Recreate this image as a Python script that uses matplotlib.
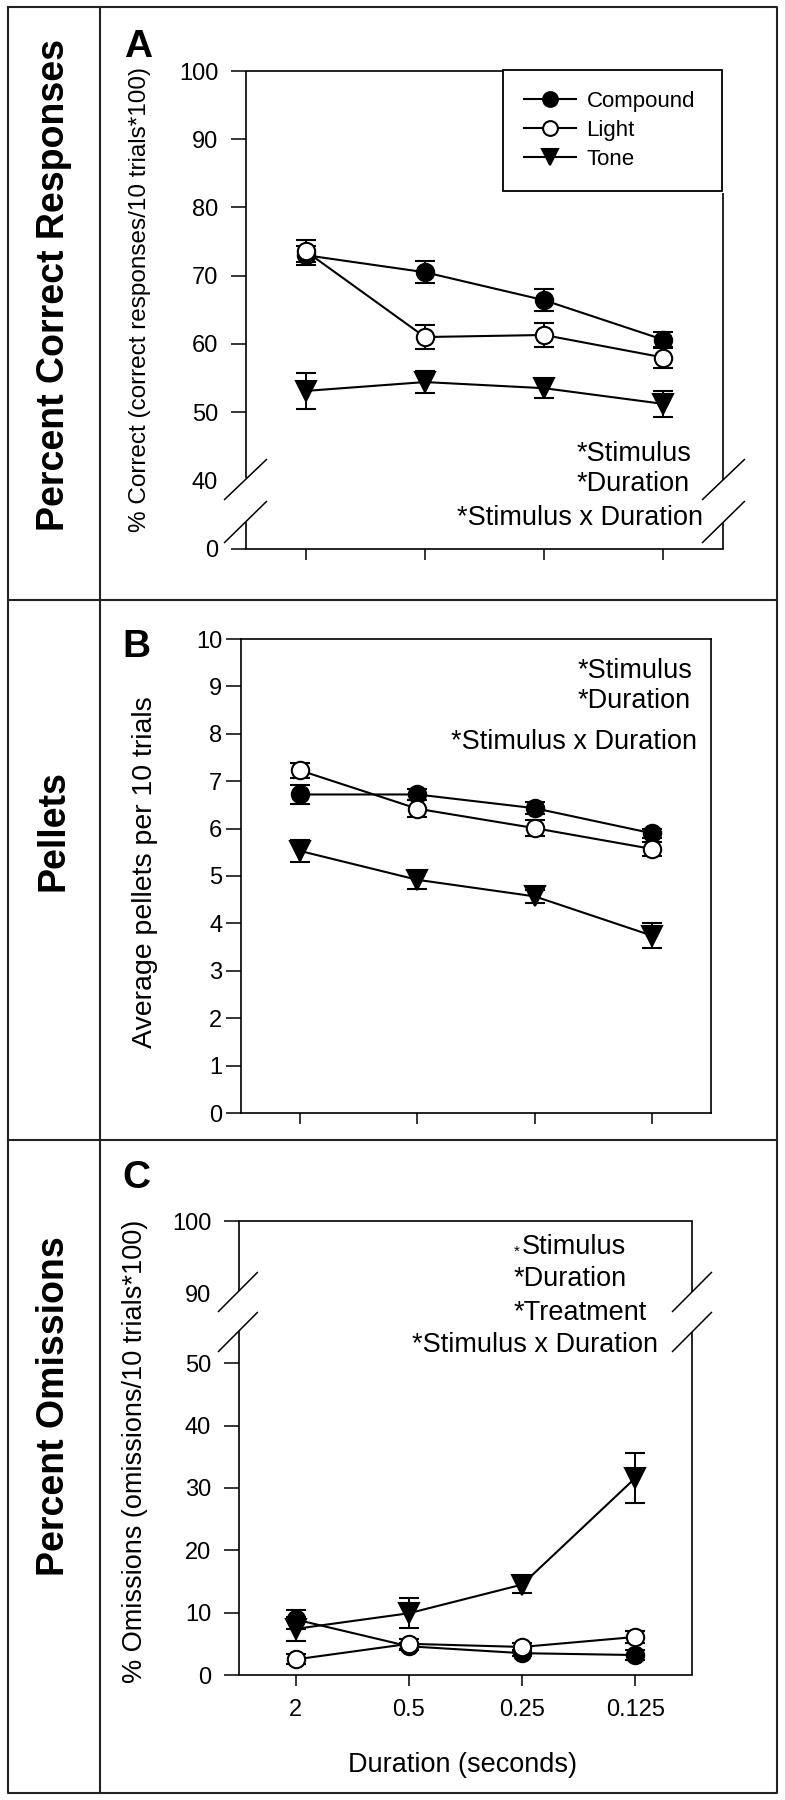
import numpy as np
import matplotlib
matplotlib.use("Agg")
import matplotlib.pyplot as plt
from matplotlib.lines import Line2D

plt.rcParams['font.family'] = ['Liberation Sans', 'DejaVu Sans']

# ---- data ----
durations = ['2', '0.5', '0.25', '0.125']
stimuli = ['Compound', 'Light', 'Tone']

correct_compound = [73.0, 70.5, 66.4, 60.6]
correct_compound_err = [1.4, 1.6, 1.6, 1.2]
correct_light = [73.6, 61.0, 61.3, 58.0]
correct_light_err = [1.6, 1.7, 1.8, 1.6]
correct_tone = [53.1, 54.4, 53.5, 51.2]
correct_tone_err = [2.7, 1.6, 1.4, 1.9]

pellets_compound = [6.72, 6.72, 6.43, 5.90]
pellets_compound_err = [0.21, 0.12, 0.13, 0.10]
pellets_light = [7.23, 6.42, 6.01, 5.57]
pellets_light_err = [0.16, 0.18, 0.17, 0.15]
pellets_tone = [5.53, 4.92, 4.57, 3.74]
pellets_tone_err = [0.23, 0.19, 0.14, 0.26]

omit_compound = [8.9, 4.6, 3.5, 3.2]
omit_compound_err = [1.5, 0.6, 0.5, 0.8]
omit_light = [2.5, 5.0, 4.5, 6.1]
omit_light_err = [0.8, 0.8, 0.7, 0.9]
omit_tone = [7.4, 9.9, 14.5, 31.6]
omit_tone_err = [1.9, 2.4, 1.4, 4.0]

W, H = 785, 1800
fig = plt.figure(figsize=(W / 100, H / 100), dpi=100)


def fx(x):
    return x / W


def fy(y):
    return 1 - y / H


def axes_px(left, top, right, bottom):
    return fig.add_axes([fx(left), fy(bottom), (right - left) / W, (bottom - top) / H])


# outer frame and dividers
frame_kw = dict(transform=fig.transFigure, color='#222222', lw=1.5)
fig.add_artist(Line2D([fx(8), fx(777), fx(777), fx(8), fx(8)],
                      [fy(7), fy(7), fy(1793), fy(1793), fy(7)], **frame_kw))
fig.add_artist(Line2D([fx(100), fx(100)], [fy(7), fy(1793)], **frame_kw))
for yy in (600, 1140):
    fig.add_artist(Line2D([fx(8), fx(777)], [fy(yy), fy(yy)], **frame_kw))

styles = {
    'Compound': dict(marker='o', ms=12.5, mfc='black'),
    'Light': dict(marker='o', ms=12.5, mfc='white'),
    'Tone': dict(marker='v', ms=14, mfc='black'),
}
x = np.arange(len(durations))


def draw(ax, series):
    handles = []
    for name, mean, err in series:
        c = ax.errorbar(x, mean, yerr=err, color='black', lw=1.5, mec='black', mew=1.5,
                        capsize=7.5, capthick=1.5, elinewidth=1.4, zorder=3,
                        **styles[name])
        handles.append(c[0])
    return handles


def style_axes(ax, xlabels=False):
    ax.set_xlim(-0.5, 3.5)
    ax.set_xticks(x)
    if xlabels:
        ax.set_xticklabels(durations)
    else:
        ax.tick_params(axis='x', labelbottom=False)
    ax.tick_params(axis='x', length=8, width=1.1, pad=9, labelsize=17)
    ax.tick_params(axis='y', length=10.5, width=1.1, pad=9.5, labelsize=17)
    for s in ax.spines.values():
        s.set_linewidth(1.2)


def seg(ax, xs, ys, lw=1.2):
    ax.plot(xs, ys, transform=ax.transAxes, color='black', lw=lw,
            clip_on=False, solid_capstyle='butt', zorder=4)


# ---------------- panel A ----------------
def fwd_a(y):
    y = np.asarray(y, float)
    return np.where(y < 40, 30 + y * 0.25, y)


def inv_a(v):
    v = np.asarray(v, float)
    return np.where(v < 40, (v - 30) * 4, v)


axA = axes_px(246, 71, 723, 548.5)
axA.set_yscale('function', functions=(fwd_a, inv_a))
hA = draw(axA, [('Compound', correct_compound, correct_compound_err),
                ('Light', correct_light, correct_light_err),
                ('Tone', correct_tone, correct_tone_err)])
axA.set_ylim(0, 100)
axA.set_yticks([0, 40, 50, 60, 70, 80, 90, 100])
axA.set_yticklabels(['0', '40', '50', '60', '70', '80', '90', '100'])
style_axes(axA)
axA.yaxis.get_major_ticks()[1].tick1line.set_visible(False)
for s in ('top', 'left', 'right'):
    axA.spines[s].set_visible(False)
seg(axA, [0, 0], [0, 0.0565])
seg(axA, [0, 0], [0.1466, 1])
seg(axA, [1, 1], [0, 0.0555])
seg(axA, [1, 1], [0.1445, 0.7445])
seg(axA, [0, 0.539], [1, 1])
for x0 in (-0.046, 0.956):
    seg(axA, [x0, x0 + 0.09], [0.1016, 0.1874], lw=1.1)
    seg(axA, [x0, x0 + 0.09], [0.0115, 0.0995], lw=1.1)
leg = axA.legend(hA, stimuli, loc='upper left', bbox_to_anchor=(0.539, 1.003, 0.458, 0),
                 mode='expand', frameon=True, fancybox=False, edgecolor='black',
                 framealpha=1, borderpad=0.95, labelspacing=0.36, handlelength=2.35,
                 handletextpad=0.45, borderaxespad=0, fontsize=16, markerscale=0.85)
leg.get_frame().set_linewidth(1.3)
leg.set_zorder(6)

# ---------------- panel B ----------------
axB = axes_px(241, 639, 711, 1113)
draw(axB, [('Compound', pellets_compound, pellets_compound_err),
           ('Light', pellets_light, pellets_light_err),
           ('Tone', pellets_tone, pellets_tone_err)])
axB.set_ylim(0, 10)
axB.set_yticks(range(0, 11))
style_axes(axB)
axB.tick_params(axis='y', pad=3)


# ---------------- panel C ----------------
def fwd_c(y):
    y = np.asarray(y, float)
    return np.where(y <= 50, y,
                    np.where(y < 90, 50 + (y - 50) * 11.1 / 40, 61.1 + (y - 90) * 1.17))


def inv_c(v):
    v = np.asarray(v, float)
    return np.where(v <= 50, v,
                    np.where(v < 61.1, 50 + (v - 50) * 40 / 11.1, 90 + (v - 61.1) / 1.17))


axC = axes_px(239, 1221, 692, 1675)
axC.set_yscale('function', functions=(fwd_c, inv_c))
draw(axC, [('Compound', omit_compound, omit_compound_err),
           ('Light', omit_light, omit_light_err),
           ('Tone', omit_tone, omit_tone_err)])
axC.set_ylim(0, 100)
axC.set_yticks([0, 10, 20, 30, 40, 50, 90, 100])
axC.set_yticklabels(['0', '10', '20', '30', '40', '50', '90', '100'])
style_axes(axC, xlabels=True)
axC.yaxis.get_major_ticks()[6].tick1line.set_visible(False)
for s in ('left', 'right'):
    axC.spines[s].set_visible(False)
seg(axC, [0, 0], [0, 0.758])
seg(axC, [0, 0], [0.846, 1])
seg(axC, [1, 1], [0, 0.7545])
seg(axC, [1, 1], [0.8427, 1])
for x0 in (-0.0464, 0.956):
    seg(axC, [x0, x0 + 0.088], [0.7996, 0.8877], lw=1.1)
    seg(axC, [x0, x0 + 0.088], [0.7115, 0.7996], lw=1.1)

# ---------------- texts ----------------
title_kw = dict(rotation=90, ha='center', va='center', fontsize=27, fontweight='bold')
fig.text(fx(54), fy(285), 'Percent Correct Responses', **title_kw)
fig.text(fx(54), fy(831), 'Pellets', **title_kw)
fig.text(fx(54), fy(1406), 'Percent Omissions', **title_kw)

letter_kw = dict(ha='left', va='baseline', fontsize=28, fontweight='bold')
fig.text(fx(124), fy(57), 'A', **letter_kw)
fig.text(fx(122), fy(657), 'B', **letter_kw)
fig.text(fx(122), fy(1188), 'C', **letter_kw)

ylab_kw = dict(rotation=90, ha='center', va='center')
fig.text(fx(140), fy(300), '% Correct (correct responses/10 trials*100)', fontsize=17.5, **ylab_kw)
fig.text(fx(145), fy(872), 'Average pellets per 10 trials', fontsize=20.5, **ylab_kw)
fig.text(fx(135), fy(1451), '% Omissions (omissions/10 trials*100)', fontsize=19.5, **ylab_kw)

fig.text(fx(463), fy(1772), 'Duration (seconds)', ha='center', va='baseline', fontsize=19.5)

note_kw = dict(va='baseline', fontsize=19.5)
fig.text(fx(577), fy(461), '*Stimulus', ha='left', **note_kw)
fig.text(fx(577), fy(491), '*Duration', ha='left', **note_kw)
fig.text(fx(703), fy(525), '*Stimulus x Duration', ha='right', **note_kw)

fig.text(fx(578), fy(678), '*Stimulus', ha='left', **note_kw)
fig.text(fx(578), fy(708), '*Duration', ha='left', **note_kw)
fig.text(fx(697), fy(749), '*Stimulus x Duration', ha='right', **note_kw)

fig.text(fx(514), fy(1256), '*', ha='left', va='baseline', fontsize=11)
fig.text(fx(522), fy(1254), 'Stimulus', ha='left', **note_kw)
fig.text(fx(514), fy(1286), '*Duration', ha='left', **note_kw)
fig.text(fx(514), fy(1320), '*Treatment', ha='left', **note_kw)
fig.text(fx(658), fy(1352), '*Stimulus x Duration', ha='right', **note_kw)

fig.savefig('out.png', dpi=100)
